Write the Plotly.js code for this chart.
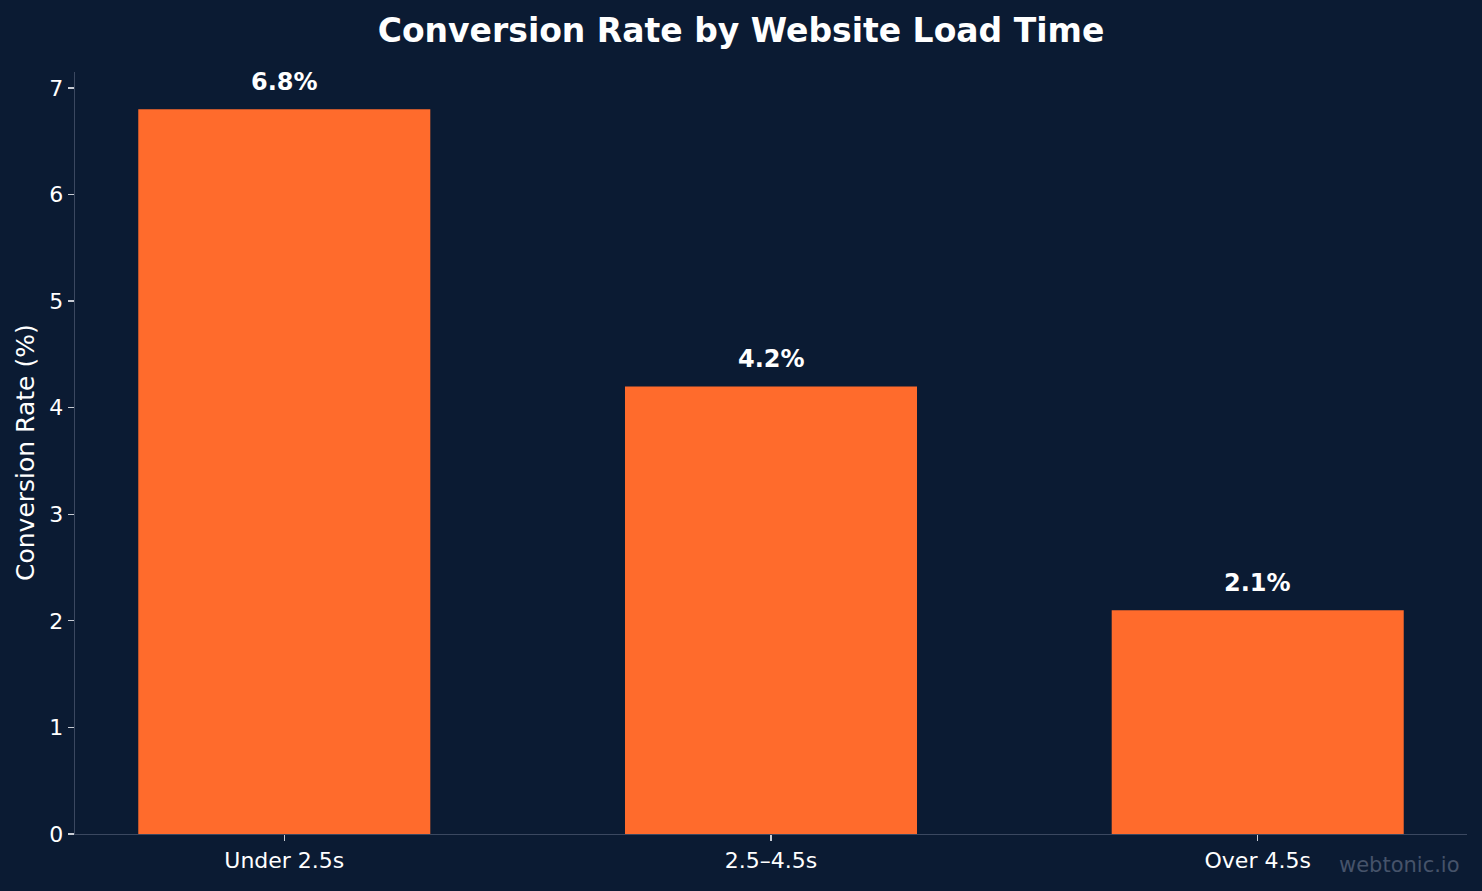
<!DOCTYPE html>
<html>
<head>
<meta charset="utf-8">
<script src="https://cdn.plot.ly/plotly-3.0.1.min.js"></script>
<style>
html,body{margin:0;padding:0;background:#0B1B33;}
#chart{width:1482px;height:891px;}
</style>
</head>
<body>
<div id="chart"></div>
<script>
const categories = ["Under 2.5s", "2.5–4.5s", "Over 4.5s"];
const conversionRates = [6.8, 4.2, 2.1];
const labels = conversionRates.map(v => v.toFixed(1) + "%");
const yTicks = [0, 1, 2, 3, 4, 5, 6, 7];

const font = "DejaVu Sans, sans-serif";
const trace = {
  type: "bar",
  x: [0, 1, 2],
  y: conversionRates,
  width: 0.6,
  marker: {color: "#FF6B2C", line: {width: 0}},
  hoverinfo: "skip"
};

const annotations = conversionRates.map((v, i) => ({
  x: i, y: v, xref: "x", yref: "y",
  text: "<b>" + labels[i] + "</b>",
  showarrow: false, yanchor: "middle", yshift: 27,
  font: {family: font, size: 24, color: "#FFFFFF"}
}));
annotations.push({
  xref: "paper", yref: "paper", x: 1, y: 0,
  xanchor: "right", yanchor: "middle", xshift: -5, yshift: -31,
  text: "webtonic.io", showarrow: false,
  font: {family: font, size: 21, color: "#46536A"}
});
annotations.push({
  xref: "paper", yref: "paper", x: 0, y: 0.5,
  xanchor: "center", yanchor: "middle", xshift: -50, textangle: -90,
  text: "Conversion Rate (%)", showarrow: false,
  font: {family: font, size: 25, color: "#FFFFFF"}
});

const layout = {
  width: 1482, height: 891,
  paper_bgcolor: "#0B1B33", plot_bgcolor: "#0B1B33",
  margin: {l: 75, r: 15, t: 72, b: 57},
  font: {family: font, color: "#FFFFFF"},
  title: {text: "<b>Conversion Rate by Website Load Time</b>", x: 0.5, xanchor: "center", y: 0.966, yanchor: "middle",
          font: {family: font, size: 33, color: "#FFFFFF"}},
  xaxis: {
    range: [-0.43, 2.43], tickmode: "array", tickvals: [0, 1, 2], ticktext: categories,
    showgrid: false, zeroline: false, showline: true, linecolor: "#3B4860", linewidth: 1.3,
    ticks: "outside", ticklen: 6, tickwidth: 1.3, tickcolor: "#C8CCD4",
    tickfont: {family: font, size: 22, color: "#FFFFFF"}
  },
  yaxis: {
    range: [0, 7.15], tickmode: "array", tickvals: yTicks,
    showgrid: false, zeroline: false, showline: true, linecolor: "#3B4860", linewidth: 1.3,
    ticks: "outside", ticklen: 6, tickwidth: 1.3, tickcolor: "#C8CCD4",
    tickfont: {family: font, size: 22, color: "#FFFFFF"}
  },
  annotations: annotations,
  showlegend: false,
  bargap: 0.4
};

Plotly.newPlot("chart", [trace], layout, {displayModeBar: false, staticPlot: true});
</script>
</body>
</html>
